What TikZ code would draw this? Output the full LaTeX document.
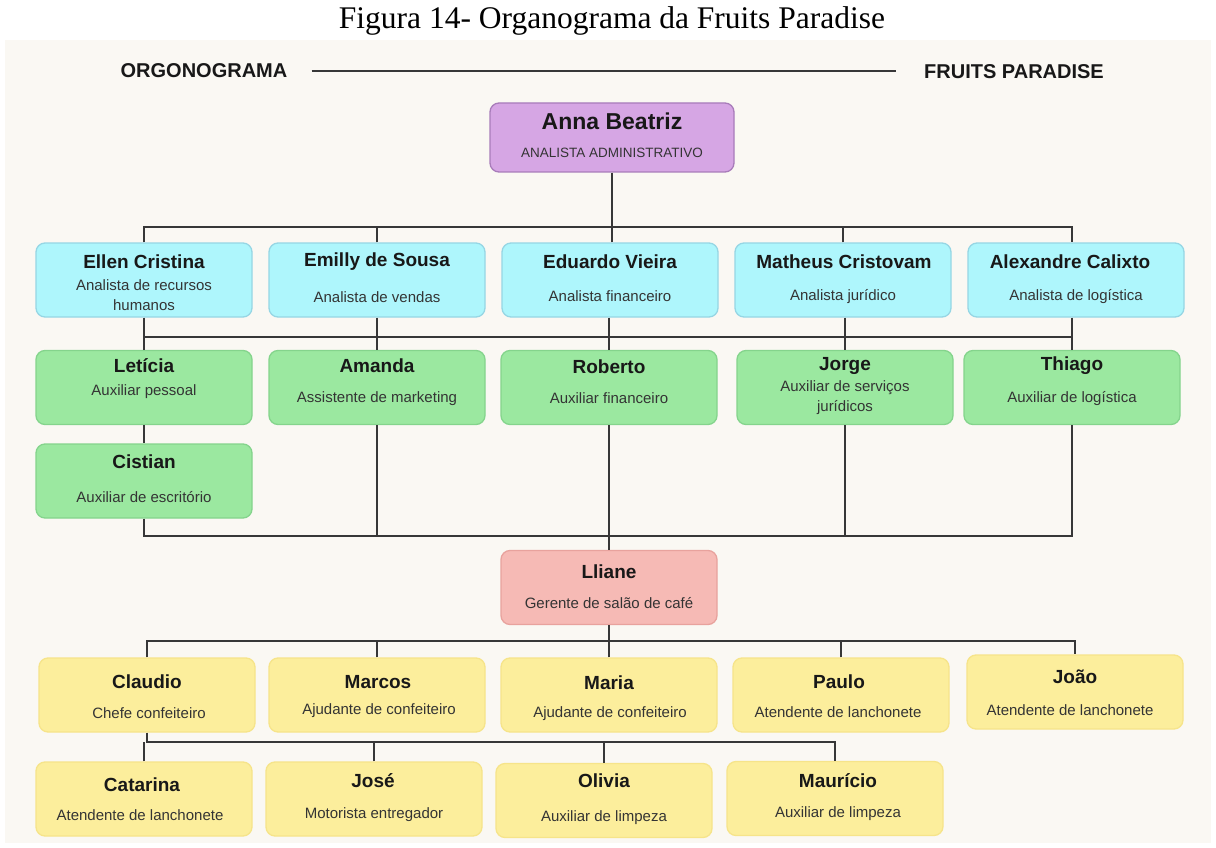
\documentclass[tikz,border=0pt]{standalone}
\usepackage{fontspec}
\setmainfont{Liberation Serif}
\newfontfamily\orgfont{Liberation Sans}

\definecolor{paper}{RGB}{250,248,243}
\definecolor{ink}{RGB}{24,24,24}
\definecolor{inkgray}{RGB}{52,52,52}
\definecolor{linegray}{RGB}{55,55,55}
\definecolor{purplefill}{RGB}{214,166,228}
\definecolor{purpleline}{RGB}{168,124,186}
\definecolor{cyanfill}{RGB}{174,246,252}
\definecolor{cyanline}{RGB}{150,214,228}
\definecolor{greenfill}{RGB}{155,232,160}
\definecolor{greenline}{RGB}{132,212,140}
\definecolor{pinkfill}{RGB}{246,186,181}
\definecolor{pinkline}{RGB}{232,162,157}
\definecolor{yellowfill}{RGB}{252,238,156}
\definecolor{yellowline}{RGB}{246,228,138}

\tikzset{
  card/.style={rounded corners=9pt, line width=1.3pt, minimum width=216pt,
    minimum height=74pt, inner sep=0pt},
  bosscard/.style={card, fill=purplefill, draw=purpleline},
  analystcard/.style={card, fill=cyanfill, draw=cyanline},
  assistcard/.style={card, fill=greenfill, draw=greenline},
  managercard/.style={card, fill=pinkfill, draw=pinkline},
  staffcard/.style={card, fill=yellowfill, draw=yellowline},
  who/.style={font=\orgfont\bfseries\fontsize{19}{22}\selectfont, text=ink, inner sep=0pt},
  job/.style={font=\orgfont\fontsize{15}{20}\selectfont, text=inkgray, align=center, inner sep=0pt},
  header/.style={font=\orgfont\bfseries\fontsize{20}{24}\selectfont, text=ink, inner sep=0pt},
  link/.style={draw=linegray, line width=1.5pt},
}

\begin{document}
\begin{tikzpicture}[x=1pt, y=-1pt]
    \useasboundingbox (0,0) rectangle (1216,848);
    \fill[paper] (5,40) rectangle (1211,843);

    % caption and header
    \node[font=\fontsize{31.5}{36}\selectfont] (caption) at (612,21) {Figura 14- Organograma da Fruits Paradise};
    \node[header] (orgtitle) at (204,71) {ORGONOGRAMA};
    \node[header] (brand) at (1014,72) {FRUITS PARADISE};
    \draw[link, line width=1.2pt] ([xshift=24pt]orgtitle.east) -- ([xshift=-28pt]brand.west |- orgtitle.east);

    % boxes
    \node[bosscard, minimum width=244pt, minimum height=69pt] (anna) at (612,137.5) {};

    \node[analystcard] (ellen) at (144,280) {};
    \node[analystcard] (emilly) at (377,280) {};
    \node[analystcard] (eduardo) at (610,280) {};
    \node[analystcard] (matheus) at (843,280) {};
    \node[analystcard] (alexandre) at (1076,280) {};

    \node[assistcard] (leticia) at (144,387.5) {};
    \node[assistcard] (amanda) at (377,387.5) {};
    \node[assistcard] (roberto) at (609,387.5) {};
    \node[assistcard] (jorge) at (845,387.5) {};
    \node[assistcard] (thiago) at (1072,387.5) {};
    \node[assistcard] (cistian) at (144,481) {};

    \node[managercard] (lliane) at (609,587.5) {};

    \node[staffcard] (claudio) at (147,695) {};
    \node[staffcard] (marcos) at (377,695) {};
    \node[staffcard] (maria) at (609,695) {};
    \node[staffcard] (paulo) at (841,695) {};
    \node[staffcard] (joao) at (1075,692) {};

    \node[staffcard] (catarina) at (144,799) {};
    \node[staffcard] (jose) at (374,799) {};
    \node[staffcard] (olivia) at (604,800.5) {};
    \node[staffcard] (mauricio) at (835,798.5) {};

    % texts
    \node[who, font=\orgfont\bfseries\fontsize{23}{26}\selectfont] (anna-name) at (612,121) {Anna Beatriz};
    \node[job, font=\orgfont\fontsize{13.5}{16}\selectfont] (anna-role) at (612,153) {ANALISTA ADMINISTRATIVO};

    \node[who] (ellen-name) at (144,262) {Ellen Cristina};
    \node[job] (ellen-role) at (144,295) {Analista de recursos\\humanos};
    \node[who] (emilly-name) at (377,262) {Emilly de Sousa};
    \node[job] (emilly-role) at (377,297) {Analista de vendas};
    \node[who] (eduardo-name) at (610,262) {Eduardo Vieira};
    \node[job] (eduardo-role) at (610,296) {Analista financeiro};
    \node[who] (matheus-name) at (844,262) {Matheus Cristovam};
    \node[job] (matheus-role) at (843,297) {Analista jurídico};
    \node[who] (alexandre-name) at (1070,262) {Alexandre Calixto};
    \node[job] (alexandre-role) at (1076,297) {Analista de logística};

    \node[who] (leticia-name) at (144,366) {Letícia};
    \node[job] (leticia-role) at (144,392) {Auxiliar pessoal};
    \node[who] (amanda-name) at (377,366) {Amanda};
    \node[job] (amanda-role) at (377,399) {Assistente de marketing};
    \node[who] (roberto-name) at (609,367) {Roberto};
    \node[job] (roberto-role) at (609,398) {Auxiliar financeiro};
    \node[who] (jorge-name) at (845,366) {Jorge};
    \node[job] (jorge-role) at (845,398) {Auxiliar de serviços\\jurídicos};
    \node[who] (thiago-name) at (1072,366) {Thiago};
    \node[job] (thiago-role) at (1072,399) {Auxiliar de logística};
    \node[who] (cistian-name) at (144,462) {Cistian};
    \node[job] (cistian-role) at (144,497) {Auxiliar de escritório};

    \node[who] (lliane-name) at (609,572) {Lliane};
    \node[job] (lliane-role) at (609,603) {Gerente de salão de café};

    \node[who] (claudio-name) at (147,682) {Claudio};
    \node[job] (claudio-role) at (149,713) {Chefe confeiteiro};
    \node[who] (marcos-name) at (378,682) {Marcos};
    \node[job] (marcos-role) at (379,711) {Ajudante de confeiteiro};
    \node[who] (maria-name) at (609,683) {Maria};
    \node[job] (maria-role) at (610,714) {Ajudante de confeiteiro};
    \node[who] (paulo-name) at (839,682) {Paulo};
    \node[job] (paulo-role) at (838,712) {Atendente de lanchonete};
    \node[who] (joao-name) at (1075,677) {João};
    \node[job] (joao-role) at (1070,710) {Atendente de lanchonete};

    \node[who] (catarina-name) at (142,785) {Catarina};
    \node[job] (catarina-role) at (140,815) {Atendente de lanchonete};
    \node[who] (jose-name) at (373,781) {José};
    \node[job] (jose-role) at (374,815) {Motorista entregador};
    \node[who] (olivia-name) at (604,781) {Olivia};
    \node[job] (olivia-role) at (604,818) {Auxiliar de limpeza};
    \node[who] (mauricio-name) at (838,781) {Maurício};
    \node[job] (mauricio-role) at (838,814) {Auxiliar de limpeza};

    % connectors
    \coordinate (bus2) at (0,227);
    \coordinate (bus3) at (0,337);
    \coordinate (bus4) at (0,536);
    \coordinate (bus5) at (0,641);
    \coordinate (bus6) at (0,742);

    \draw[link] (anna.south) -- (anna.south |- bus2);
    \draw[link] (ellen.north) |- (bus2 -| thiago.north) -- (thiago.north |- alexandre.north);
    \draw[link] (emilly.north) -- (emilly.north |- bus2);
    \draw[link] (anna.south |- eduardo.north) -- (anna.south |- bus2);
    \draw[link] (matheus.north) -- (matheus.north |- bus2);

    \draw[link] (ellen.south) -- (leticia.north);
    \draw[link] (emilly.south) -- (emilly.south |- amanda.north);
    \draw[link] (roberto.north |- eduardo.south) -- (roberto.north);
    \draw[link] (jorge.north |- matheus.south) -- (jorge.north);
    \draw[link] (thiago.north |- alexandre.south) -- (thiago.north);
    \draw[link] (ellen.south |- bus3) -- (thiago.north |- bus3);
    \draw[link] (leticia.south) -- (cistian.north);

    \draw[link] (cistian.south) |- (bus4 -| thiago.south) -- (thiago.south);
    \draw[link] (amanda.south) -- (amanda.south |- bus4);
    \draw[link] (roberto.south) -- (roberto.south |- lliane.north);
    \draw[link] (jorge.south) -- (jorge.south |- bus4);

    \draw[link] (lliane.south) -- (lliane.south |- bus5);
    \draw[link] (claudio.north) |- (bus5 -| joao.north) -- (joao.north);
    \draw[link] (marcos.north) -- (marcos.north |- bus5);
    \draw[link] (maria.north) -- (maria.north |- bus5);
    \draw[link] (paulo.north) -- (paulo.north |- bus5);

    \draw[link] (claudio.south) |- (bus6 -| mauricio.north) -- (mauricio.north);
    \draw[link] (catarina.north) -- (catarina.north |- bus6);
    \draw[link] (jose.north) -- (jose.north |- bus6);
    \draw[link] (olivia.north) -- (olivia.north |- bus6);
\end{tikzpicture}
\end{document}
